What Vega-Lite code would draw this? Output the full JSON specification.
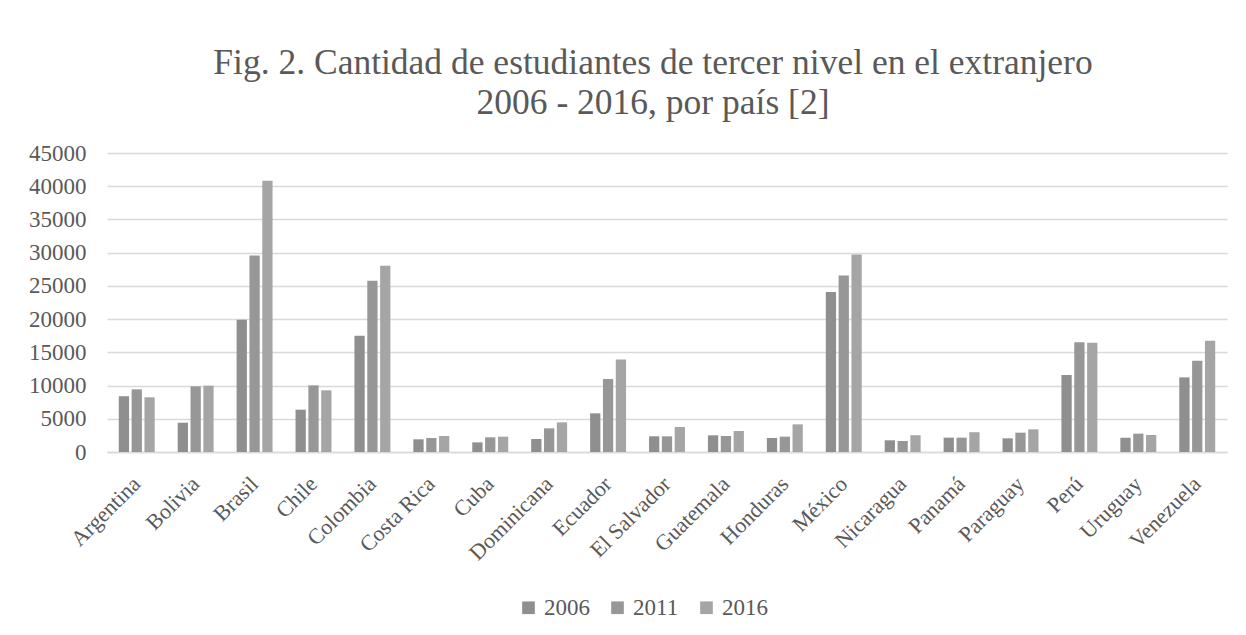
{
  "$schema": "https://vega.github.io/schema/vega-lite/v6.json",
  "autosize": {"type": "none"},
  "width": 1120,
  "height": 299,
  "padding": {"left": 107, "top": 153, "right": 19, "bottom": 183},
  "background": "white",
  "title": {
    "text": ["Fig. 2. Cantidad de estudiantes de tercer nivel en el extranjero", "2006 - 2016, por país [2]"],
    "font": "Liberation Serif",
    "fontSize": 35.5,
    "fontWeight": "normal",
    "color": "#595959",
    "anchor": "middle",
    "dx": -14,
    "offset": 21,
    "lineHeight": 40
  },
  "data": {
    "values": [
      {"country": "Argentina", "year": "2006", "value": 8400},
      {"country": "Argentina", "year": "2011", "value": 9430},
      {"country": "Argentina", "year": "2016", "value": 8230},
      {"country": "Bolivia", "year": "2006", "value": 4410},
      {"country": "Bolivia", "year": "2011", "value": 9880},
      {"country": "Bolivia", "year": "2016", "value": 9980},
      {"country": "Brasil", "year": "2006", "value": 19910},
      {"country": "Brasil", "year": "2011", "value": 29590},
      {"country": "Brasil", "year": "2016", "value": 40820},
      {"country": "Chile", "year": "2006", "value": 6370},
      {"country": "Chile", "year": "2011", "value": 10030},
      {"country": "Chile", "year": "2016", "value": 9280},
      {"country": "Colombia", "year": "2006", "value": 17500},
      {"country": "Colombia", "year": "2011", "value": 25780},
      {"country": "Colombia", "year": "2016", "value": 28030},
      {"country": "Costa Rica", "year": "2006", "value": 1910},
      {"country": "Costa Rica", "year": "2011", "value": 2110},
      {"country": "Costa Rica", "year": "2016", "value": 2410},
      {"country": "Cuba", "year": "2006", "value": 1450},
      {"country": "Cuba", "year": "2011", "value": 2210},
      {"country": "Cuba", "year": "2016", "value": 2310},
      {"country": "Dominicana", "year": "2006", "value": 1960},
      {"country": "Dominicana", "year": "2011", "value": 3560},
      {"country": "Dominicana", "year": "2016", "value": 4460},
      {"country": "Ecuador", "year": "2006", "value": 5820},
      {"country": "Ecuador", "year": "2011", "value": 10980},
      {"country": "Ecuador", "year": "2016", "value": 13940},
      {"country": "El Salvador", "year": "2006", "value": 2360},
      {"country": "El Salvador", "year": "2011", "value": 2360},
      {"country": "El Salvador", "year": "2016", "value": 3760},
      {"country": "Guatemala", "year": "2006", "value": 2510},
      {"country": "Guatemala", "year": "2011", "value": 2410},
      {"country": "Guatemala", "year": "2016", "value": 3160},
      {"country": "Honduras", "year": "2006", "value": 2110},
      {"country": "Honduras", "year": "2011", "value": 2310},
      {"country": "Honduras", "year": "2016", "value": 4160},
      {"country": "México", "year": "2006", "value": 24070},
      {"country": "México", "year": "2011", "value": 26580},
      {"country": "México", "year": "2016", "value": 29740},
      {"country": "Nicaragua", "year": "2006", "value": 1760},
      {"country": "Nicaragua", "year": "2011", "value": 1660},
      {"country": "Nicaragua", "year": "2016", "value": 2510},
      {"country": "Panamá", "year": "2006", "value": 2160},
      {"country": "Panamá", "year": "2011", "value": 2160},
      {"country": "Panamá", "year": "2016", "value": 2960},
      {"country": "Paraguay", "year": "2006", "value": 2060},
      {"country": "Paraguay", "year": "2011", "value": 2910},
      {"country": "Paraguay", "year": "2016", "value": 3410},
      {"country": "Perú", "year": "2006", "value": 11590},
      {"country": "Perú", "year": "2011", "value": 16500},
      {"country": "Perú", "year": "2016", "value": 16450},
      {"country": "Uruguay", "year": "2006", "value": 2160},
      {"country": "Uruguay", "year": "2011", "value": 2760},
      {"country": "Uruguay", "year": "2016", "value": 2560},
      {"country": "Venezuela", "year": "2006", "value": 11230},
      {"country": "Venezuela", "year": "2011", "value": 13740},
      {"country": "Venezuela", "year": "2016", "value": 16750}
    ]
  },
  "mark": {"type": "bar"},
  "encoding": {
    "x": {
      "field": "country",
      "type": "nominal",
      "sort": null,
      "scale": {"paddingInner": 0.39, "paddingOuter": 0.2},
      "axis": {
        "title": null,
        "labelAngle": -45,
        "labelAlign": "right",
        "labelBaseline": "middle",
        "labelFont": "Liberation Serif",
        "labelFontSize": 22,
        "labelColor": "#595959",
        "ticks": false,
        "domainColor": "#d9d9d9",
        "domainWidth": 1.5,
        "labelPadding": 28,
        "grid": false
      }
    },
    "xOffset": {"field": "year", "type": "nominal", "scale": {"paddingInner": 0.2}},
    "y": {
      "field": "value",
      "type": "quantitative",
      "scale": {"domain": [0, 45000], "nice": false},
      "axis": {
        "title": null,
        "values": [0, 5000, 10000, 15000, 20000, 25000, 30000, 35000, 40000, 45000],
        "format": "d",
        "labelFont": "Liberation Serif",
        "labelFontSize": 23,
        "labelColor": "#595959",
        "ticks": false,
        "domain": false,
        "gridColor": "#d9d9d9",
        "gridWidth": 1.5,
        "labelPadding": 21
      }
    },
    "color": {
      "field": "year",
      "type": "nominal",
      "scale": {"domain": ["2006", "2011", "2016"], "range": ["#8f8f8f", "#979797", "#a5a5a5"]},
      "legend": {
        "title": null,
        "orient": "none",
        "legendX": 410,
        "legendY": 443,
        "direction": "horizontal",
        "symbolType": "square",
        "symbolSize": 160,
        "symbolStrokeWidth": 0,
        "labelFont": "Liberation Serif",
        "labelFontSize": 23,
        "labelColor": "#595959",
        "labelOffset": 4,
        "columnPadding": 16
      }
    }
  },
  "config": {"view": {"stroke": null}}
}
